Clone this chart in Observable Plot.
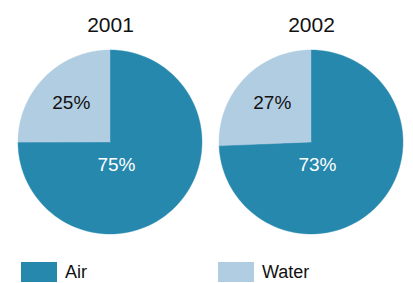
<!DOCTYPE html>
<html>
<head>
<meta charset="utf-8">
<script src="https://cdn.jsdelivr.net/npm/d3@7"></script>
<script src="https://cdn.jsdelivr.net/npm/@observablehq/plot@0.6"></script>
<style>
  html, body { margin: 0; padding: 0; background: #fff; }
  body { font-family: "Liberation Sans", Arial, Helvetica, sans-serif; color: #111; width: 413px; height: 283px; overflow: hidden; }
  #chart svg { display: block; }
  #legend { margin-top: 17px; margin-left: 21px; }
  #legend .lg-swatches { min-height: 20px !important; flex-wrap: nowrap !important; font-family: "Liberation Sans", Arial, sans-serif !important; font-size: 18px !important; line-height: 20px !important; color: #111 !important; margin: 0 !important; }
  #legend .lg-swatch { margin-right: 0 !important; flex-shrink: 0; }
  #legend span.lg-swatch:first-of-type { width: 197px; }
  #legend .lg-swatch > svg { margin-right: 8px !important; }
</style>
</head>
<body>
<div id="chart"></div>
<div id="legend"></div>
<script>
const years = ["2001", "2002"];
const series = ["Air", "Water"];
// printed percentage labels
const airLabel = [75, 73];
const waterLabel = [25, 27];
// slice sizes as drawn in the picture (the 2002 water slice is drawn narrower than its label)
const airSlice = [75, 74.4];
const waterSlice = [25, 25.6];
const colors = ["#2788ae", "#b1cde1"];

// layout (label placement in pie-radius units, fixed as in the reference)
const labelPos = { Air: [0.065, 0.245], Water: [-0.426, -0.435] };
const labelFill = { Air: "#ffffff", Water: "#111111" };

const sliceValues = { Air: airSlice, Water: waterSlice };
const labelValues = { Air: airLabel, Water: waterLabel };

// sector polygons sampled from the values
const pts = [];
const labels = [];
years.forEach((year, i) => {
  const total = series.reduce((s, k) => s + sliceValues[k][i], 0);
  let start = 0;
  for (const k of series) {
    const v = sliceValues[k][i];
    const end = start + (v / total) * 2 * Math.PI;
    const n = Math.max(2, Math.ceil(128 * (end - start) / (2 * Math.PI)) + 1);
    for (let j = 0; j < n; j++) {
      const a = start + (end - start) * j / (n - 1);
      pts.push({ year, series: k, x1: Math.sin(a), y1: -Math.cos(a), x2: 0, y2: 0 });
    }
    labels.push({ year, series: k, text: `${labelValues[k][i]}%`, x: labelPos[k][0], y: labelPos[k][1] });
    start = end;
  }
});

const W = 413, H = 245;
const chart = Plot.plot({
  width: W,
  height: H,
  marginLeft: 18.2,
  marginRight: 9.5,
  marginTop: 50,
  marginBottom: 11,
  style: { fontFamily: "Liberation Sans, Arial, Helvetica, sans-serif", background: "#fff", color: "#111" },
  fx: { domain: years, paddingInner: 0.086, paddingOuter: 0, axis: null },
  x: { domain: [-1, 1], axis: null },
  y: { domain: [-1, 1], reverse: true, axis: null },
  color: { domain: series, range: colors },
  marks: [
    Plot.area(pts, { fx: "year", x1: "x1", y1: "y1", x2: "x2", y2: "y2", z: "series", fill: "series", stroke: "series", strokeWidth: 0.4, curve: "linear" }),
    Plot.text(labels.filter(d => d.series === "Water"), { fx: "year", x: "x", y: "y", text: "text", fill: labelFill.Water, fontSize: 19 }),
    Plot.text(labels.filter(d => d.series === "Air"), { fx: "year", x: "x", y: "y", text: "text", fill: labelFill.Air, fontSize: 19 }),
    Plot.text(years, { fx: d => d, text: d => d, frameAnchor: "top", lineAnchor: "bottom", dy: -18.3, fontSize: 21, fill: "#111" })
  ]
});
document.getElementById("chart").appendChild(chart);

const legend = Plot.legend({
  color: { domain: series, range: colors },
  legend: "swatches",
  swatchWidth: 36,
  swatchHeight: 20,
  className: "lg"
});
document.getElementById("legend").appendChild(legend);
</script>
</body>
</html>
